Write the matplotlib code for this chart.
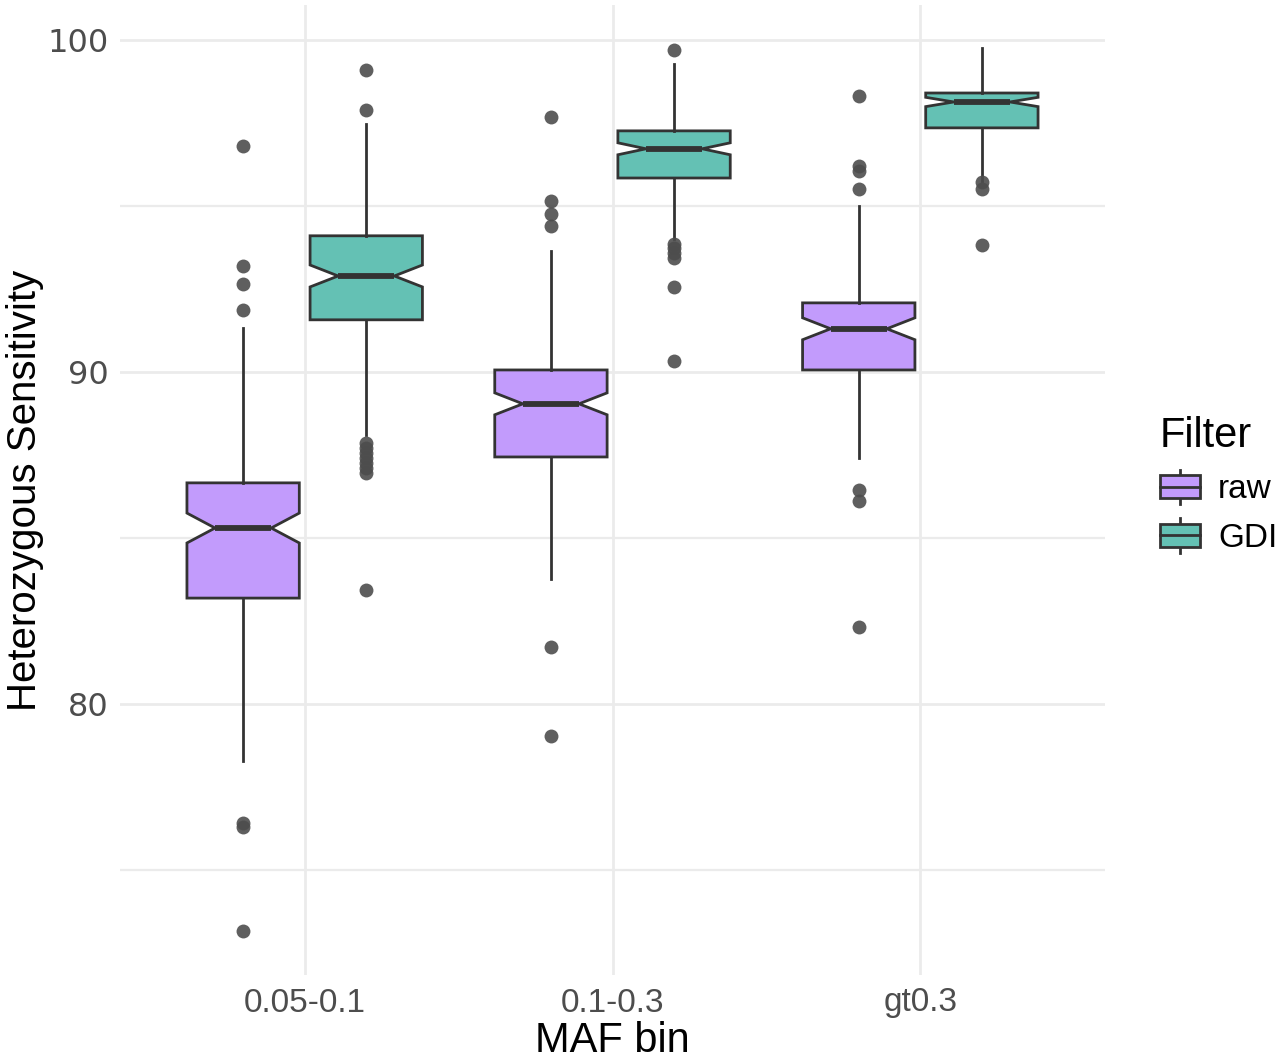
import matplotlib
matplotlib.use("Agg")
import matplotlib.pyplot as plt
from matplotlib.patches import Rectangle
from matplotlib.lines import Line2D
from matplotlib.legend_handler import HandlerBase

# data
categories = ["0.05-0.1", "0.1-0.3", "gt0.3"]
filters = ["raw", "GDI"]

raw_q1 = [83.19, 87.44, 90.06]
raw_med = [85.30, 89.04, 91.30]
raw_q3 = [86.66, 90.06, 92.08]
raw_lo = [78.28, 83.77, 87.41]
raw_hi = [91.33, 93.64, 95.00]
raw_notch = [0.45, 0.33, 0.33]
raw_out = [
    [96.81, 93.19, 92.65, 91.87, 76.42, 76.30, 73.16],
    [97.68, 95.15, 94.76, 94.40, 81.72, 79.04],
    [98.31, 96.20, 96.05, 95.51, 86.45, 86.11, 82.32],
]

gdi_q1 = [91.57, 95.84, 97.35]
gdi_med = [92.89, 96.72, 98.13]
gdi_q3 = [94.10, 97.26, 98.40]
gdi_lo = [88.10, 94.00, 95.75]
gdi_hi = [97.47, 99.28, 99.76]
gdi_notch = [0.33, 0.18, 0.14]
gdi_out = [
    [99.10, 97.89, 87.85, 87.70, 87.55, 87.40, 87.25, 87.10, 86.95, 83.43],
    [99.70, 93.86, 93.72, 93.58, 93.44, 92.56, 90.33],
    [95.72, 95.51, 93.83],
]

colors = {"raw": "#C29BFC", "GDI": "#64C1B4"}
edge = "#333333"


def make_stats(q1, med, q3, lo, hi, notch, out):
    stats = []
    for i in range(len(q1)):
        stats.append({
            "med": med[i], "q1": q1[i], "q3": q3[i],
            "whislo": lo[i], "whishi": hi[i],
            "cilo": med[i] - notch[i], "cihi": med[i] + notch[i],
            "fliers": out[i],
        })
    return stats


class BoxKeyHandler(HandlerBase):
    """Draws a ggplot-like boxplot legend key"""

    def create_artists(self, legend, orig_handle, xdescent, ydescent,
                       width, height, fontsize, trans):
        x0, y0 = -xdescent, -ydescent
        xm = x0 + width / 2
        b0, b1 = y0 + height * 0.16, y0 + height * 0.84
        rect = Rectangle((x0, b0), width, b1 - b0,
                         facecolor=orig_handle.get_facecolor(),
                         edgecolor=edge, lw=2, transform=trans)
        med = Line2D([x0, x0 + width], [y0 + height / 2] * 2,
                     color=edge, lw=2, transform=trans)
        w1 = Line2D([xm, xm], [y0, b0], color=edge, lw=2, transform=trans)
        w2 = Line2D([xm, xm], [b1, y0 + height], color=edge, lw=2,
                    transform=trans)
        return [w1, w2, rect, med]


fig = plt.figure(figsize=(12.8, 10.63), dpi=100)
ax = fig.add_axes([120 / 1280, 88 / 1063, 985 / 1280, 970 / 1063])

x = list(range(1, len(categories) + 1))
series = [
    ("raw", -0.2, make_stats(raw_q1, raw_med, raw_q3, raw_lo, raw_hi,
                             raw_notch, raw_out)),
    ("GDI", 0.2, make_stats(gdi_q1, gdi_med, gdi_q3, gdi_lo, gdi_hi,
                            gdi_notch, gdi_out)),
]

handles = []
for name, off, stats in series:
    ax.bxp(
        stats,
        positions=[p + off for p in x],
        widths=0.365,
        shownotches=True,
        showcaps=False,
        patch_artist=True,
        boxprops=dict(facecolor=colors[name], edgecolor=edge, lw=2),
        whiskerprops=dict(color=edge, lw=2),
        medianprops=dict(color=edge, lw=4.2, solid_capstyle="butt"),
        flierprops=dict(marker="o", markersize=10, markerfacecolor="#4d4d4d",
                        markeredgecolor="none", alpha=0.9),
        zorder=3,
    )
    handles.append(Rectangle((0, 0), 1, 1, facecolor=colors[name]))

ax.set_xlim(0.4, 3.6)
ax.set_ylim(71.84, 101.05)
ax.set_xticks(x)
ax.set_xticklabels(categories, fontsize=24, color="#4d4d4d",
                   family="Liberation Sans")
ax.set_yticks([80, 90, 100])
ax.set_yticks([75, 85, 95], minor=True)
for lab in ax.get_yticklabels():
    lab.set_fontsize(23)
    lab.set_color("#4d4d4d")
    lab.set_family("DejaVu Sans")
ax.tick_params(axis="both", which="both", length=0)
ax.tick_params(axis="x", pad=9)
ax.tick_params(axis="y", pad=8)

ax.grid(True, which="major", color="#ebebeb", lw=2)
ax.grid(True, which="minor", axis="y", color="#ebebeb", lw=1.6)
ax.set_axisbelow(True)
for s in ax.spines.values():
    s.set_visible(False)

ax.set_xlabel("MAF bin", fontsize=30, family="Liberation Sans", labelpad=2)
ax.set_ylabel("Heterozygous Sensitivity", fontsize=29,
              family="Liberation Sans")
# right edge of the rotated label sits about 44 px from the figure edge
ax.yaxis.set_label_coords((44 - 120) / 985, 0.5)

leg = fig.legend(
    handles, filters,
    handler_map={Rectangle: BoxKeyHandler()},
    loc="center left",
    bbox_to_anchor=(1143 / 1280, 1 - 485 / 1063),
    frameon=False,
    title="Filter",
    alignment="left",
    prop={"family": "Liberation Sans", "size": 24},
    title_fontproperties={"family": "Liberation Sans", "size": 30},
    handlelength=1.2,
    handleheight=1.2,
    labelspacing=0.4,
    handletextpad=0.55,
    borderpad=0,
)

fig.savefig("out.png", dpi=100)
plt.close(fig)
